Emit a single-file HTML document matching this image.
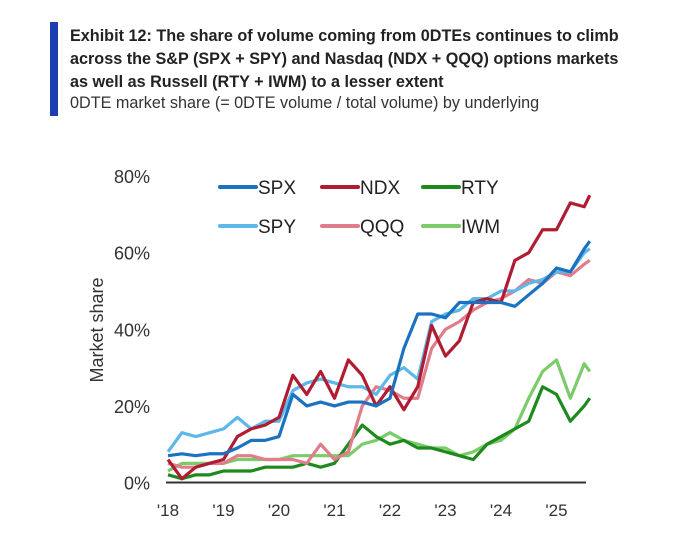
<!DOCTYPE html>
<html><head><meta charset="utf-8"><style>
body{margin:0;width:691px;height:535px;background:#fff;overflow:hidden;font-family:"Liberation Sans",sans-serif}
.t{position:absolute;left:70px;top:25px;font-size:16.2px;font-weight:bold;color:#222;line-height:23px;width:620px;white-space:nowrap}
.s{position:absolute;left:70px;top:94px;font-size:16.2px;color:#333;white-space:nowrap}
</style></head><body>
<div style="position:absolute;left:50px;top:22px;width:8px;height:94px;background:#1a3fb3"></div>
<div class="t">Exhibit 12: The share of volume coming from 0DTEs continues to climb<br>across the S&amp;P (SPX + SPY) and Nasdaq (NDX + QQQ) options markets<br>as well as Russell (RTY + IWM) to a lesser extent</div>
<div class="s">0DTE market share (= 0DTE volume / total volume) by underlying</div>
<svg id="c" width="691" height="535" style="position:absolute;left:0;top:0"></svg>
<script>
const dates=[2018,2018.25,2018.5,2018.75,2019,2019.25,2019.5,2019.75,2020,2020.25,2020.5,2020.75,2021,2021.25,2021.5,2021.75,2022,2022.25,2022.5,2022.75,2023,2023.25,2023.5,2023.75,2024,2024.25,2024.5,2024.75,2025,2025.25,2025.5,2025.6];
const spx=[7,7.5,7,7.5,7.5,9,11,11,12,23,20,21,20,21,21,20,22,35,44,44,43,47,47,47,47,46,49,52,56,55,61,63];
const ndx=[6,1,4,5,6,12,14,15,17,28,23,29,22,32,28,20,25,19,25,41,33,37,47,48,47,58,60,66,66,73,72,75];
const spy=[8,13,12,13,14,17,14,16,16,24,26,27,26,25,25,23,28,30,27,42,44,45,48,48,50,50,52,53,55,55,60,61];
const qqq=[5,4,4,5,5,7,7,6,6,6,5,10,6,8,20,25,24,22,22,35,40,42,45,47,48,50,53,52,55,54,57,58];
const rty=[2,1,2,2,3,3,3,4,4,4,5,4,5,10,15,12,10,11,9,9,8,7,6,10,12,14,16,25,23,16,20,22];
const iwm=[3,5,5,5,5,6,6,6,6,7,7,7,7,7,10,11,13,11,10,9,9,7,8,10,11,14,22,29,32,22,31,29];
const yTicks=[0,20,40,60,80];
const xTicks=["'18","'19","'20","'21","'22","'23","'24","'25"];
const series=[["iwm",iwm,"#7ccb6a"],["rty",rty,"#1e8a1e"],["qqq",qqq,"#e07d8a"],["spy",spy,"#5bb8e8"],["ndx",ndx,"#b01c32"],["spx",spx,"#1a72c0"]];
const X=v=>168+(v-2018)*55.5, Y=v=>482.5-v*3.83;
const svg=document.getElementById('c'),NS='http://www.w3.org/2000/svg';
function mk(t,a){const e=document.createElementNS(NS,t);for(const k in a)e.setAttribute(k,a[k]);svg.appendChild(e);return e;}
yTicks.forEach(v=>{const e=mk('text',{x:150,y:Y(v)+7,'text-anchor':'end','font-size':18,fill:'#333'});e.textContent=v+'%';

});
xTicks.forEach((s,i)=>{const e=mk('text',{x:X(2018+i),y:516,'text-anchor':'middle','font-size':17,fill:'#333'});e.textContent=s;

});
const yt=mk('text',{x:0,y:0,transform:'translate(103,330) rotate(-90)','text-anchor':'middle','font-size':18,fill:'#333'});yt.textContent='Market share';


const ax=mk('line',{x1:166,x2:586,y1:482.5,y2:482.5,stroke:'#333','stroke-width':2});


series.forEach(([n,d,c])=>{const p=mk('polyline',{points:d.map((v,i)=>X(dates[i])+','+Y(v)).join(' '),fill:'none',stroke:c,'stroke-width':3.2,'stroke-linejoin':'round'});

});
const leg=[["SPX","#1a72c0",220,187],["NDX","#b01c32",322,187],["RTY","#1e8a1e",423,187],["SPY","#5bb8e8",220,226],["QQQ","#e07d8a",322,226],["IWM","#7ccb6a",423,226]];
leg.forEach(([n,c,x,y])=>{const l=mk('line',{x1:x,x2:x+36,y1:y,y2:y,stroke:c,'stroke-width':4,'stroke-linecap':'round'});


const t=mk('text',{x:x+38,y:y+7,'font-size':19,fill:'#222'});t.textContent=n;

});
</script>
</body></html>
